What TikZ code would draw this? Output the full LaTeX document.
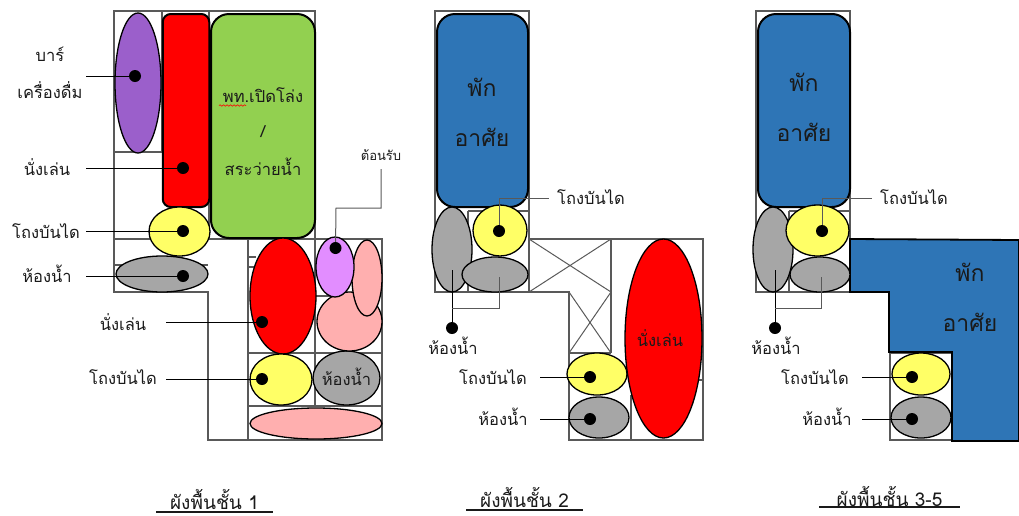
\documentclass[tikz,border=0pt]{standalone}
\usepackage{fontspec}
\setmainfont[Script=Thai]{Loma}
\usetikzlibrary{shapes.geometric,decorations.pathmorphing}
\definecolor{wallc}{HTML}{595959}
\definecolor{cpurple}{HTML}{9B5FCB}
\definecolor{cgreen}{HTML}{92D050}
\definecolor{cyellow}{HTML}{FFFF66}
\definecolor{cgray}{HTML}{A6A6A6}
\definecolor{cpink}{HTML}{FFAFAF}
\definecolor{cviolet}{HTML}{E28DFF}
\definecolor{cblue}{HTML}{2E75B6}
\definecolor{ctext}{HTML}{1A1A1A}
\tikzset{
  wall/.style={draw=wallc,line width=1.3pt},
  ell/.style={shape=ellipse,draw=black,line width=1.3pt,inner sep=0pt,outer sep=0pt},
  rbox/.style={shape=rectangle,draw=black,line width=2pt,inner sep=0pt,outer sep=0pt},
  blackdot/.style={shape=circle,fill=black,inner sep=0pt,minimum size=12pt},
  lead/.style={draw=black,line width=1pt},
  graylead/.style={draw=wallc,line width=1pt},
  lab/.style={inner sep=0pt,text=ctext,font=\fontsize{16.5}{18}\selectfont},
  big/.style={inner sep=0pt,text=ctext,font=\fontsize{23}{26}\selectfont},
  ttl/.style={inner sep=1pt,text=ctext,font=\fontsize{19}{22}\selectfont},
  uline/.style={draw=ctext,line width=1.2pt}
}
\begin{document}
\begin{tikzpicture}[x=1pt,y=-1pt]
\useasboundingbox (0,0) rectangle (1019,515);
% ---------- panel 1 walls
\draw[wall] (114,11) rectangle (315,239);
\draw[wall] (114,11) -- (114,292) -- (208,292) -- (208,440) -- (382,440) -- (382,239) -- (248,239) -- (248,440);
\draw[wall] (114,152) -- (162,152) (162,11) -- (162,152) (209,11) -- (209,239);
\draw[wall] (114,265) -- (208,265) (248,257) -- (256,257) (248,267) -- (256,267);
\draw[wall] (315,239) -- (315,406) (248,353) -- (382,353) (248,406) -- (382,406) (315,296) -- (332,296);
% panel 1 shapes
\node[ell,fill=cpurple,minimum width=46,minimum height=140] (bar) at (138,83) {};
\node[rbox,fill=red,rounded corners=8pt,minimum width=46.5,minimum height=193] (sit1) at (186,110.5) {};
\node[rbox,fill=cgreen,rounded corners=18pt,minimum width=104,minimum height=224] (pool) at (263,126) {};
\node[ell,fill=cyellow,minimum width=61,minimum height=49] (st1) at (179.5,231.5) {};
\node[ell,fill=cgray,minimum width=92,minimum height=36] (wc1) at (162,274) {};
\node[ell,fill=red,minimum width=66,minimum height=116] (sit2) at (283,296) {};
\node[ell,fill=cyellow,minimum width=62,minimum height=51] (st2) at (281,379.5) {};
\node[ell,fill=cgray,minimum width=67,minimum height=54] (wc2) at (346.5,378) {};
\node[ell,fill=cpink,minimum width=132,minimum height=31] (pk1) at (316,423.5) {};
\node[ell,fill=cpink,minimum width=65,minimum height=59] (pk2) at (349.5,321.5) {};
\node[ell,fill=cpink,minimum width=30,minimum height=76] (pk3) at (367,278) {};
\node[ell,fill=cviolet,minimum width=38,minimum height=60] (rec) at (335,267) {};
% panel 1 dots
\node[blackdot] (d1) at (135,76) {};
\node[blackdot] (d2) at (183,168) {};
\node[blackdot] (d3) at (183,231) {};
\node[blackdot] (d4) at (183,276) {};
\node[blackdot] (d5) at (262,322) {};
\node[blackdot] (d6) at (262,379) {};
\node[blackdot] (d7) at (335.5,248) {};
% panel 1 free ends
\coordinate (c1) at (86,76);
\coordinate (c2) at (86,168);
\coordinate (c3) at (86,231);
\coordinate (c4) at (86,276);
\coordinate (c5) at (166,322);
\coordinate (c6) at (166,379);
\coordinate (c7) at (336,208);
\coordinate (c8) at (381,208);
\coordinate (c9) at (381,169);
\draw[lead] (c1) -- (d1);
\draw[lead] (c2) -- (d2);
\draw[lead] (c3) -- (d3);
\draw[lead] (c4) -- (d4);
\draw[lead] (c5) -- (d5);
\draw[lead] (c6) -- (d6);
\draw[graylead] (d7) -- (c7) -- (c8) -- (c9);
% panel 1 text
\node[lab] (t1) at (50,54) {บาร์};
\node[lab] (t2) at (50,90) {เครื่องดื่ม};
\node[lab] (t3) at (47,167) {นั่งเล่น};
\node[lab] (t4) at (46,231) {โถงบันได};
\node[lab] (t5) at (47,274) {ห้องน้ำ};
\node[lab] (t6) at (123,322) {นั่งเล่น};
\node[lab] (t7) at (123,377) {โถงบันได};
\node[lab] (t8) at (346.5,377) {ห้องน้ำ};
\node[lab,font=\fontsize{13}{15}\selectfont] (t9) at (381,155) {ต้อนรับ};
\node[lab] (g1) at (263,95) {พท.เปิดโล่ง};
\node[lab] (g2) at (263,132) {/};
\node[lab] (g3) at (263,167) {สระว่ายน้ำ};
\coordinate (w1) at (219,105.5);
\coordinate (w2) at (246,105.5);
\draw[red,line width=.6pt,decorate,decoration={snake,amplitude=.7pt,segment length=3.5pt}] (w1) -- (w2);
\node[ttl] (title1) at (214.5,499) {ผังพื้นชั้น 1};
\draw[uline] (156,512) -- (273,512);
% ---------- panel 2 walls
\draw[wall] (435,11) rectangle (529,292);
\draw[wall] (468,211) -- (529,211) (468,211) -- (468,292);
\draw[wall] (529,239) -- (703,239) -- (703,440) -- (569,440) -- (569,292) -- (435,292);
\draw[wall] (611,239) -- (611,353) (569,353) -- (611,353) (631,395) -- (631,440) (695,380) -- (703,380);
\draw[wall,line width=1pt] (529,239) -- (611,292) (611,239) -- (529,292) (569,292) -- (611,353) (611,292) -- (569,353);
% panel 2 shapes
\node[rbox,fill=cblue,rounded corners=18pt,minimum width=91,minimum height=193] (blue2) at (482.5,110.5) {};
\node[ell,fill=cgray,minimum width=40,minimum height=85] (wa2) at (452,249.5) {};
\node[ell,fill=cgray,minimum width=66,minimum height=35] (wb2) at (495,274.5) {};
\node[ell,fill=cyellow,minimum width=54,minimum height=51] (y2) at (500,230.5) {};
\node[ell,fill=cyellow,minimum width=60,minimum height=42] (y2b) at (597,374) {};
\node[ell,fill=cgray,minimum width=60,minimum height=41] (g2b) at (599,417.5) {};
\node[ell,fill=red,minimum width=77,minimum height=199] (s2) at (663.5,338.5) {};
\node[blackdot] (e1) at (499,231) {};
\node[blackdot] (e2) at (452,328) {};
\node[blackdot] (e3) at (590,377) {};
\node[blackdot] (e4) at (590,419) {};
\coordinate (f1) at (499,198);
\coordinate (f2) at (549,198);
\coordinate (f3) at (452,270);
\coordinate (f4) at (452,308);
\coordinate (f5) at (499,308);
\coordinate (f6) at (499,277);
\coordinate (f7) at (540,377);
\coordinate (f8) at (540,419);
\draw[graylead] (e1) -- (f1) -- (f2);
\draw[lead] (f3) -- (e2);
\draw[graylead] (f4) -- (f5) -- (f6);
\draw[lead] (f7) -- (e3);
\draw[lead] (f8) -- (e4);
\node[big] (p2a) at (482,87) {พัก};
\node[big] (p2b) at (482,137) {อาศัย};
\node[lab] (l21) at (591,197) {โถงบันได};
\node[lab] (l22) at (453,346) {ห้องน้ำ};
\node[lab] (l23) at (493,377) {โถงบันได};
\node[lab] (l24) at (503,417) {ห้องน้ำ};
\node[lab] (l25) at (660,338) {นั่งเล่น};
\node[ttl] (title2) at (524.5,497) {ผังพื้นชั้น 2};
\draw[uline] (466,510) -- (583,510);
% ---------- panel 3 walls
\draw[wall] (756,11) rectangle (850,292);
\draw[wall] (789,211) -- (850,211) (789,211) -- (789,292);
\draw[wall] (890,353) rectangle (952,440);
% panel 3 shapes
\node[rbox,fill=cblue,rounded corners=18pt,minimum width=92,minimum height=193] (blue3) at (804,110.5) {};
\draw[black,line width=1.8pt,fill=cblue] (850,239) -- (1019,240) -- (1019,441) -- (952,441) -- (952,352) -- (889,352) -- (889,292) -- (850,292) -- cycle;
\node[ell,fill=cgray,minimum width=40,minimum height=85] (wa3) at (773,249.5) {};
\node[ell,fill=cgray,minimum width=60,minimum height=35] (wb3) at (820,274.5) {};
\node[ell,fill=cyellow,minimum width=63,minimum height=51] (y3) at (817.5,230.5) {};
\node[ell,fill=cyellow,minimum width=58,minimum height=42] (y3b) at (921,374) {};
\node[ell,fill=cgray,minimum width=60,minimum height=41] (g3b) at (921,417.5) {};
\node[blackdot] (h1) at (822,231) {};
\node[blackdot] (h2) at (775,328) {};
\node[blackdot] (h3) at (912,377) {};
\node[blackdot] (h4) at (912,419) {};
\coordinate (i1) at (822,198);
\coordinate (i2) at (872,198);
\coordinate (i3) at (775,270);
\coordinate (i4) at (775,308);
\coordinate (i5) at (821,308);
\coordinate (i6) at (821,277);
\coordinate (i7) at (862,377);
\coordinate (i8) at (862,419);
\draw[graylead] (h1) -- (i1) -- (i2);
\draw[lead] (i3) -- (h2);
\draw[graylead] (i4) -- (i5) -- (i6);
\draw[lead] (i7) -- (h3);
\draw[lead] (i8) -- (h4);
\node[big] (p3a) at (804,82) {พัก};
\node[big] (p3b) at (804,132) {อาศัย};
\node[big] (p3c) at (970,272) {พัก};
\node[big] (p3d) at (970,322) {อาศัย};
\node[lab] (l31) at (914,197) {โถงบันได};
\node[lab] (l32) at (776,346) {ห้องน้ำ};
\node[lab] (l33) at (815,377) {โถงบันได};
\node[lab] (l34) at (827,417) {ห้องน้ำ};
\node[ttl] (title3) at (889.5,496) {ผังพื้นชั้น 3-5};
\draw[uline] (819,507) -- (960,507);
\end{tikzpicture}
\end{document}
